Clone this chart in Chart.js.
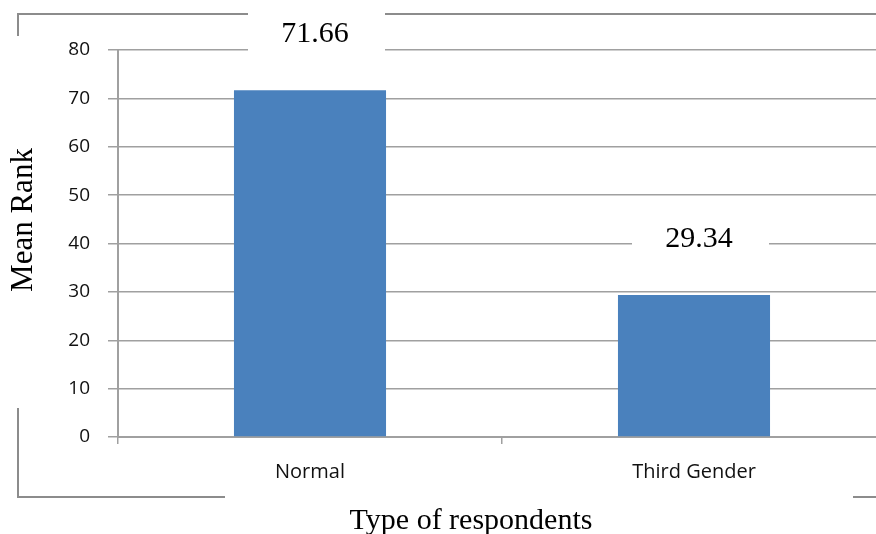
<!DOCTYPE html>
<html>
<head>
<meta charset="utf-8">
<script src="https://cdn.jsdelivr.net/npm/chart.js@4"></script>
<style>
  html, body { margin: 0; padding: 0; background: #fff; overflow: hidden; }
  #wrap { width: 886px; height: 534px; }
</style>
</head>
<body>
<div id="wrap"><canvas id="rankChart"></canvas></div>
<script>
// ข้อมูลจากภาพ
var categories = ['Normal', 'Third Gender'];
var meanRank = [71.66, 29.34];
var yMin = 0, yMax = 80, yStep = 10;
var yTitle = 'Mean Rank';
var xTitle = 'Type of respondents';

var GREY = '#a0a0a0';
var FRAME = '#8c8c8c';
var SERIF = '"Liberation Serif", "Times New Roman", serif';

// กรอบรอบแผนภูมิ + ชื่อแกน + ป้ายค่าบนแท่ง
var framePlugin = {
    id: 'framePlugin',
    beforeDraw: function (chart) {
        var ctx = chart.ctx;
        ctx.save();
        ctx.fillStyle = '#fff';
        ctx.fillRect(0, 0, chart.width, chart.height);
        ctx.strokeStyle = FRAME;
        ctx.lineWidth = 2;
        ctx.strokeRect(18, 14, 900, 483);
        // ช่องว่างของกรอบตรงชื่อแกน
        ctx.fillStyle = '#fff';
        ctx.fillRect(8, 36, 22, 372);
        ctx.fillRect(225, 486, 628, 22);
        ctx.restore();
    },
    afterDatasetsDraw: function (chart) {
        var ctx = chart.ctx;
        var meta = chart.getDatasetMeta(0);
        ctx.save();
        ctx.font = '30px ' + SERIF;
        ctx.textAlign = 'center';
        ctx.textBaseline = 'middle';
        meta.data.forEach(function (bar, i) {
            var cx = bar.x + 5;
            var cy = bar.y - 56;
            ctx.fillStyle = '#fff';
            ctx.fillRect(cx - 67, cy - 24, 137, 48);
            ctx.fillStyle = '#000';
            ctx.fillText(meanRank[i].toFixed(2), cx, cy);
        });
        ctx.restore();
    },
    afterDraw: function (chart) {
        var ctx = chart.ctx;
        ctx.save();
        ctx.fillStyle = '#000';
        ctx.font = '30px ' + SERIF;
        ctx.textAlign = 'center';
        ctx.textBaseline = 'middle';
        ctx.fillText(xTitle, 471, 521);
        ctx.translate(24, 220);
        ctx.rotate(-Math.PI / 2);
        ctx.font = '31px ' + SERIF;
        ctx.fillText(yTitle, 0, 0);
        ctx.restore();
    }
};

var ctx = document.getElementById('rankChart').getContext('2d');
var rankChart = new Chart(ctx, {
    type: 'bar',
    data: {
        labels: categories,
        datasets: [{
            label: yTitle,
            data: meanRank,
            backgroundColor: '#4a81bd',
            borderWidth: 0,
            categoryPercentage: 1,
            barPercentage: 0.396
        }]
    },
    options: {
        responsive: true,
        maintainAspectRatio: false,
        animation: false,
        layout: { padding: { top: 50, right: 0, bottom: 0, left: 0 } },
        plugins: {
            legend: { display: false },
            tooltip: { enabled: false }
        },
        scales: {
            x: {
                grid: {
                    offset: true,
                    drawOnChartArea: false,
                    drawTicks: true,
                    tickLength: 7,
                    color: GREY,
                    lineWidth: 1.5
                },
                border: { display: true, color: GREY, width: 2 },
                ticks: {
                    color: '#111',
                    padding: 16,
                    font: { family: '"Open Sans", sans-serif', size: 20 }
                },
                afterFit: function (scale) { scale.height = 97; }
            },
            y: {
                min: yMin,
                max: yMax,
                grid: {
                    color: GREY,
                    lineWidth: 1.5,
                    tickLength: 10
                },
                border: { display: true, color: GREY, width: 2 },
                ticks: {
                    stepSize: yStep,
                    color: '#111',
                    padding: 18,
                    font: { family: '"Open Sans", sans-serif', size: 19 }
                },
                afterFit: function (scale) { scale.width = 118; }
            }
        }
    },
    plugins: [framePlugin]
});
</script>
</body>
</html>
